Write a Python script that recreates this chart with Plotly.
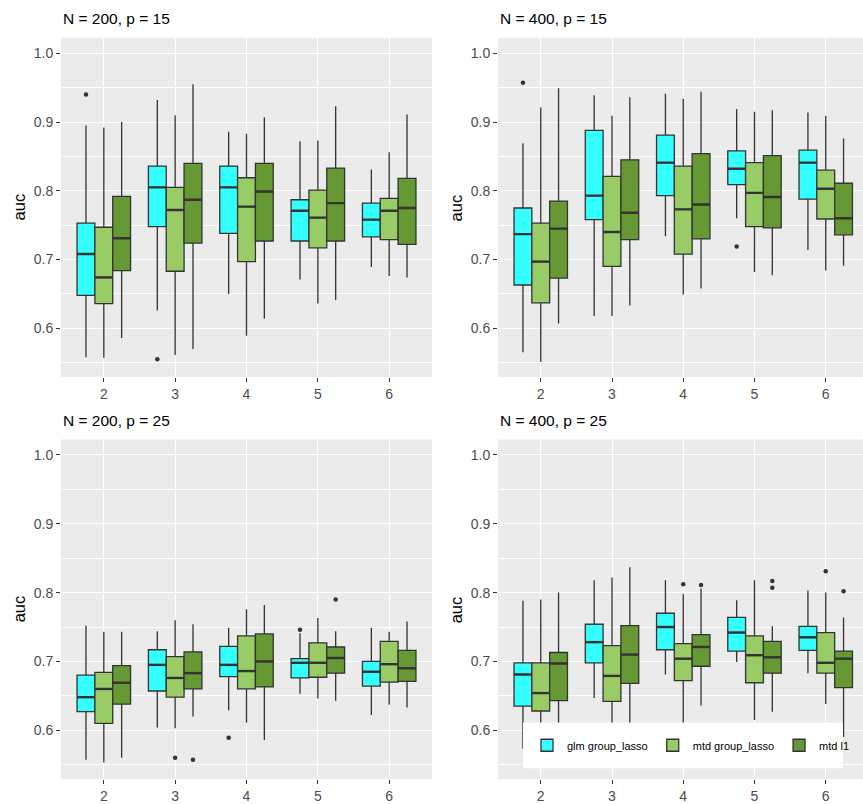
import plotly.graph_objects as go

# ---------------- data ----------------
groups = [2, 3, 4, 5, 6]
series_names = ["glm group_lasso", "mtd group_lasso", "mtd l1"]
fill_colors = ["#33FFFF", "#99CC66", "#669933"]
panel_titles = ["N = 200, p = 15", "N = 400, p = 15", "N = 200, p = 25", "N = 400, p = 25"]
y_tick_vals = [0.6, 0.7, 0.8, 0.9, 1.0]
y_tick_text = ["0.6", "0.7", "0.8", "0.9", "1.0"]
y_minor_vals = [0.55, 0.65, 0.75, 0.85, 0.95]
x_tick_text = ["2", "3", "4", "5", "6"]

# Panel A: N = 200, p = 15
a_glm_lower = [0.558, 0.626, 0.650, 0.671, 0.689]
a_glm_q1 = [0.648, 0.748, 0.738, 0.727, 0.733]
a_glm_median = [0.708, 0.805, 0.805, 0.771, 0.758]
a_glm_q3 = [0.753, 0.836, 0.836, 0.787, 0.782]
a_glm_upper = [0.895, 0.932, 0.886, 0.872, 0.831]
a_mgl_lower = [0.557, 0.561, 0.589, 0.636, 0.676]
a_mgl_q1 = [0.636, 0.683, 0.697, 0.717, 0.729]
a_mgl_median = [0.674, 0.772, 0.777, 0.761, 0.771]
a_mgl_q3 = [0.747, 0.805, 0.819, 0.801, 0.789]
a_mgl_upper = [0.892, 0.910, 0.883, 0.873, 0.856]
a_ml1_lower = [0.586, 0.570, 0.614, 0.641, 0.674]
a_ml1_q1 = [0.684, 0.724, 0.727, 0.727, 0.722]
a_ml1_median = [0.731, 0.787, 0.799, 0.782, 0.775]
a_ml1_q3 = [0.792, 0.840, 0.840, 0.833, 0.818]
a_ml1_upper = [0.900, 0.955, 0.907, 0.923, 0.911]
a_out_glm_x = [2, 3]
a_out_glm_y = [0.940, 0.555]
a_out_mgl_x = []
a_out_mgl_y = []
a_out_ml1_x = []
a_out_ml1_y = []

# Panel B: N = 400, p = 15
b_glm_lower = [0.565, 0.618, 0.734, 0.760, 0.714]
b_glm_q1 = [0.663, 0.758, 0.793, 0.809, 0.788]
b_glm_median = [0.737, 0.793, 0.841, 0.832, 0.841]
b_glm_q3 = [0.775, 0.888, 0.881, 0.858, 0.859]
b_glm_upper = [0.869, 0.939, 0.941, 0.919, 0.914]
b_mgl_lower = [0.551, 0.618, 0.649, 0.682, 0.684]
b_mgl_q1 = [0.637, 0.690, 0.708, 0.748, 0.759]
b_mgl_median = [0.697, 0.740, 0.773, 0.797, 0.803]
b_mgl_q3 = [0.753, 0.821, 0.836, 0.841, 0.830]
b_mgl_upper = [0.921, 0.909, 0.934, 0.915, 0.909]
b_ml1_lower = [0.607, 0.633, 0.658, 0.677, 0.691]
b_ml1_q1 = [0.673, 0.729, 0.730, 0.746, 0.736]
b_ml1_median = [0.745, 0.768, 0.780, 0.791, 0.760]
b_ml1_q3 = [0.785, 0.845, 0.854, 0.851, 0.811]
b_ml1_upper = [0.949, 0.936, 0.944, 0.917, 0.876]
b_out_glm_x = [2, 5]
b_out_glm_y = [0.957, 0.719]
b_out_mgl_x = []
b_out_mgl_y = []
b_out_ml1_x = []
b_out_ml1_y = []

# Panel C: N = 200, p = 25
c_glm_lower = [0.557, 0.604, 0.629, 0.653, 0.622]
c_glm_q1 = [0.627, 0.657, 0.678, 0.676, 0.664]
c_glm_median = [0.648, 0.695, 0.695, 0.698, 0.685]
c_glm_q3 = [0.680, 0.717, 0.722, 0.704, 0.700]
c_glm_upper = [0.752, 0.744, 0.749, 0.741, 0.749]
c_mgl_lower = [0.553, 0.603, 0.611, 0.646, 0.637]
c_mgl_q1 = [0.610, 0.648, 0.660, 0.677, 0.670]
c_mgl_median = [0.660, 0.676, 0.686, 0.698, 0.696]
c_mgl_q3 = [0.684, 0.707, 0.737, 0.727, 0.729]
c_mgl_upper = [0.743, 0.760, 0.776, 0.763, 0.743]
c_ml1_lower = [0.560, 0.620, 0.586, 0.643, 0.633]
c_ml1_q1 = [0.638, 0.660, 0.663, 0.683, 0.671]
c_ml1_median = [0.669, 0.683, 0.700, 0.705, 0.690]
c_ml1_q3 = [0.694, 0.714, 0.740, 0.721, 0.716]
c_ml1_upper = [0.743, 0.754, 0.782, 0.744, 0.758]
c_out_glm_x = [4, 5]
c_out_glm_y = [0.589, 0.746]
c_out_mgl_x = [3]
c_out_mgl_y = [0.560]
c_out_ml1_x = [3, 5]
c_out_ml1_y = [0.557, 0.790]

# Panel D: N = 400, p = 25
d_glm_lower = [0.573, 0.647, 0.681, 0.699, 0.683]
d_glm_q1 = [0.635, 0.698, 0.717, 0.715, 0.716]
d_glm_median = [0.681, 0.728, 0.750, 0.742, 0.735]
d_glm_q3 = [0.698, 0.754, 0.770, 0.764, 0.751]
d_glm_upper = [0.788, 0.818, 0.818, 0.789, 0.803]
d_mgl_lower = [0.570, 0.580, 0.600, 0.615, 0.638]
d_mgl_q1 = [0.628, 0.642, 0.672, 0.669, 0.683]
d_mgl_median = [0.654, 0.679, 0.704, 0.709, 0.698]
d_mgl_q3 = [0.698, 0.723, 0.726, 0.737, 0.742]
d_mgl_upper = [0.790, 0.822, 0.798, 0.818, 0.800]
d_ml1_lower = [0.580, 0.560, 0.636, 0.627, 0.590]
d_ml1_q1 = [0.643, 0.668, 0.693, 0.683, 0.662]
d_ml1_median = [0.697, 0.710, 0.721, 0.706, 0.704]
d_ml1_q3 = [0.713, 0.752, 0.739, 0.729, 0.715]
d_ml1_upper = [0.800, 0.837, 0.806, 0.751, 0.764]
d_out_glm_x = []
d_out_glm_y = []
d_out_mgl_x = [4, 6]
d_out_mgl_y = [0.812, 0.831]
d_out_ml1_x = [4, 5, 5, 6]
d_out_ml1_y = [0.811, 0.817, 0.807, 0.802]

panels_data = [
    [(a_glm_lower, a_glm_q1, a_glm_median, a_glm_q3, a_glm_upper, a_out_glm_x, a_out_glm_y),
     (a_mgl_lower, a_mgl_q1, a_mgl_median, a_mgl_q3, a_mgl_upper, a_out_mgl_x, a_out_mgl_y),
     (a_ml1_lower, a_ml1_q1, a_ml1_median, a_ml1_q3, a_ml1_upper, a_out_ml1_x, a_out_ml1_y)],
    [(b_glm_lower, b_glm_q1, b_glm_median, b_glm_q3, b_glm_upper, b_out_glm_x, b_out_glm_y),
     (b_mgl_lower, b_mgl_q1, b_mgl_median, b_mgl_q3, b_mgl_upper, b_out_mgl_x, b_out_mgl_y),
     (b_ml1_lower, b_ml1_q1, b_ml1_median, b_ml1_q3, b_ml1_upper, b_out_ml1_x, b_out_ml1_y)],
    [(c_glm_lower, c_glm_q1, c_glm_median, c_glm_q3, c_glm_upper, c_out_glm_x, c_out_glm_y),
     (c_mgl_lower, c_mgl_q1, c_mgl_median, c_mgl_q3, c_mgl_upper, c_out_mgl_x, c_out_mgl_y),
     (c_ml1_lower, c_ml1_q1, c_ml1_median, c_ml1_q3, c_ml1_upper, c_out_ml1_x, c_out_ml1_y)],
    [(d_glm_lower, d_glm_q1, d_glm_median, d_glm_q3, d_glm_upper, d_out_glm_x, d_out_glm_y),
     (d_mgl_lower, d_mgl_q1, d_mgl_median, d_mgl_q3, d_mgl_upper, d_out_mgl_x, d_out_mgl_y),
     (d_ml1_lower, d_ml1_q1, d_ml1_median, d_ml1_q3, d_ml1_upper, d_out_ml1_x, d_out_ml1_y)],
]

# ---------------- layout geometry (pixels) ----------------
W, H = 863, 804
FONT = "Liberation Sans, Arial, sans-serif"
DARK = "#333333"
# (axis suffix, left, right, top, bottom, x max)
panel_boxes = [
    ("", 61, 432, 38, 379, 6.6),
    ("2", 498, 863, 38, 379, 6.523),
    ("3", 61, 432, 441.7, 783, 6.6),
    ("4", 498, 863, 441.7, 783, 6.523),
]
dodge = [-0.25, 0.0, 0.25]
box_w = 0.25

fig = go.Figure()
for p, (sfx, l, r, t, b, xmax) in enumerate(panel_boxes):
    xa = "x" + sfx
    ya = "y" + sfx
    for s, stats in enumerate(panels_data[p]):
        lo, q1, med, q3, hi, ox, oy = stats
        pos = [g + dodge[s] for g in groups]
        fig.add_trace(go.Box(
            x=pos, lowerfence=lo, q1=q1, median=med, q3=q3, upperfence=hi,
            width=box_w, name=series_names[s], legendgroup=series_names[s],
            showlegend=(p == 0),
            fillcolor=fill_colors[s], line=dict(color=DARK, width=1.3),
            whiskerwidth=0, boxpoints=False, xaxis=xa, yaxis=ya, hoverinfo="skip",
        ))
    # thicker median bars and outliers
    for s, stats in enumerate(panels_data[p]):
        lo, q1, med, q3, hi, ox, oy = stats
        mx, my = [], []
        for g, m in zip(groups, med):
            c = g + dodge[s]
            mx += [c - box_w / 2, c + box_w / 2, None]
            my += [m, m, None]
        fig.add_trace(go.Scatter(x=mx, y=my, mode="lines", line=dict(color=DARK, width=2.4),
                                 showlegend=False, hoverinfo="skip", xaxis=xa, yaxis=ya))
        if ox:
            fig.add_trace(go.Scatter(x=[g + dodge[s] for g in ox], y=oy, mode="markers",
                                     marker=dict(color=DARK, size=4.5), showlegend=False,
                                     hoverinfo="skip", xaxis=xa, yaxis=ya))

    axis_common = dict(showgrid=True, gridcolor="white", zeroline=False, showline=False,
                       ticks="outside", ticklen=4, tickcolor=DARK, tickwidth=1.1,
                       tickfont=dict(family=FONT, size=14, color="#4D4D4D"))
    fig.update_layout(**{
        "xaxis" + sfx: dict(domain=[l / W, r / W], range=[1.4, xmax], tickvals=groups,
                            ticktext=x_tick_text, gridwidth=1.1, anchor="y" + sfx,
                            **axis_common),
        "yaxis" + sfx: dict(domain=[1 - b / H, 1 - t / H], range=[0.529, 1.0225],
                            tickvals=y_tick_vals, ticktext=y_tick_text, gridwidth=1.1,
                            anchor="x" + sfx,
                            minor=dict(tickvals=y_minor_vals, showgrid=True,
                                       gridcolor="white", gridwidth=0.55, ticklen=0),
                            **axis_common),
    })
    fig.add_annotation(x=l / W, y=1 - (t - 19) / H, xref="paper", yref="paper",
                       text=panel_titles[p], showarrow=False, xanchor="left",
                       yanchor="middle", font=dict(family=FONT, size=15.5, color="black"))
    fig.add_annotation(x=(l - 42) / W, y=1 - (t + b) / 2 / H, xref="paper", yref="paper",
                       text="auc", showarrow=False, textangle=-90, xanchor="center",
                       yanchor="middle", font=dict(family=FONT, size=16.5, color="black"))

fig.add_shape(type="rect", xref="paper", yref="paper", x0=523 / W, x1=843 / W,
              y0=1 - 772 / H, y1=1 - 726 / H, fillcolor="white", line=dict(width=0),
              layer="above")

fig.update_layout(
    width=W, height=H, margin=dict(l=0, r=0, t=0, b=0),
    paper_bgcolor="white", plot_bgcolor="#EBEBEB",
    boxmode="overlay",
    font=dict(family=FONT, color="black"),
    showlegend=True,
    legend=dict(orientation="h", x=527 / W, y=1 - 749 / H, xanchor="left", yanchor="middle",
                bgcolor="rgba(0,0,0,0)", font=dict(family=FONT, size=11, color="black"),
                itemclick=False, itemdoubleclick=False),
)

fig.write_html("out.html", config={"displayModeBar": False},
               post_script="document.body.style.margin='0';document.body.style.overflow='hidden';")
